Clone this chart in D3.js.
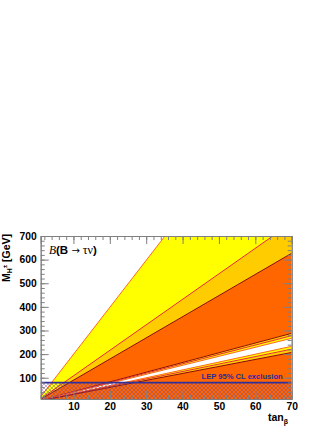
<!DOCTYPE html>
<html>
<head>
<meta charset="utf-8">
<script src="https://cdn.jsdelivr.net/npm/d3@7"></script>
<style>
  body { margin: 0; background: #fff; }
  text { font-family: "Liberation Sans", Arial, sans-serif; }
</style>
</head>
<body>
<div id="chart"></div>
<script>
// tanBeta range and contour lines (M_H+ reached at tanBeta = 70, lines start at origin)
var tanBetaEnd = 70;
var contourM70 = [1393, 756, 627, 288, 278, 267, 233, 221, 207];
var regionNames = ["yellow", "orange", "dark", "orange", "yellow", "white", "yellow", "orange", "dark"];
var lineNames = ["edge", "red", "darkred", "darkred", "red", "edge", "edge", "red", "darkred"];
var lepLimit = 79.3;
var xTicks = [10, 20, 30, 40, 50, 60, 70];
var yTicks = [100, 200, 300, 400, 500, 600, 700];

var fills = { yellow: "#ffff00", orange: "#ffcc00", dark: "#ff6600", white: "#ffffff" };
var strokes = { edge: "#ff6a1a", red: "#e8283a", darkred: "#8a0a00" };

var W = 332, H = 429;
var svg = d3.select("#chart").append("svg").attr("width", W).attr("height", H);

var x = d3.scaleLinear().domain([1, 70]).range([40.7, 291.7]);
var y = d3.scaleLinear().domain([10, 700]).range([399, 236]);

var defs = svg.append("defs");
defs.append("clipPath").attr("id", "plot")
  .append("rect")
  .attr("x", x(1)).attr("y", y(700))
  .attr("width", x(70) - x(1)).attr("height", y(10) - y(700));

var pat = defs.append("pattern").attr("id", "hatch")
  .attr("patternUnits", "userSpaceOnUse")
  .attr("width", 4).attr("height", 4);
pat.append("path").attr("d", "M0,0 L4,4 M4,0 L0,4")
  .attr("stroke", "#7a4a9a").attr("stroke-opacity", 0.45).attr("stroke-width", 1);

var g = svg.append("g").attr("clip-path", "url(#plot)");

// filled wedges between consecutive contours
var bounds = contourM70.concat([0]);
for (var i = 0; i < regionNames.length; i++) {
  var pts = [[0, 0], [tanBetaEnd, bounds[i]], [tanBetaEnd, bounds[i + 1]]];
  g.append("path")
    .attr("d", "M" + pts.map(function (p) { return x(p[0]) + "," + y(p[1]) }).join("L") + "Z")
    .attr("fill", fills[regionNames[i]]);
}
// contour lines
contourM70.forEach(function (m, i) {
  g.append("line")
    .attr("x1", x(0)).attr("y1", y(0))
    .attr("x2", x(tanBetaEnd)).attr("y2", y(m))
    .attr("stroke", strokes[lineNames[i]])
    .attr("stroke-width", 1);
});

// LEP exclusion
g.append("rect")
  .attr("x", x(1)).attr("y", y(lepLimit))
  .attr("width", x(70) - x(1)).attr("height", y(10) - y(lepLimit))
  .attr("fill", "url(#hatch)");
g.append("line")
  .attr("x1", x(1)).attr("x2", x(70))
  .attr("y1", y(lepLimit)).attr("y2", y(lepLimit))
  .attr("stroke", "#30309a").attr("stroke-width", 1.6);

svg.append("text")
  .attr("x", x(70) - 9).attr("y", y(lepLimit) - 4)
  .attr("text-anchor", "end")
  .attr("font-size", 7.6).attr("font-weight", "bold")
  .attr("fill", "#2a2a9a")
  .text("LEP 95% CL exclusion");

// axes
var axisColor = "#808080";
function styleAxis(sel) {
  sel.select(".domain").attr("stroke", axisColor);
  sel.selectAll(".tick line").attr("stroke", axisColor);
  sel.selectAll(".tick text")
    .attr("font-family", "Liberation Sans, Arial, sans-serif")
    .attr("font-size", 10.3).attr("font-weight", "bold").attr("fill", "#000");
}
var xMinor = d3.range(2, 71, 2);
var yMinor = d3.range(20, 701, 20);

svg.append("g").attr("transform", "translate(0," + y(10) + ")")
  .call(d3.axisBottom(x).tickValues(xMinor).tickSize(-4).tickFormat(""))
  .call(styleAxis);
svg.append("g").attr("transform", "translate(0," + y(10) + ")")
  .call(d3.axisBottom(x).tickValues(xTicks).tickSizeInner(-8).tickSizeOuter(0).tickPadding(4).tickFormat(d3.format("d")))
  .call(styleAxis);
svg.append("g").attr("transform", "translate(0," + y(700) + ")")
  .call(d3.axisTop(x).tickValues(xMinor).tickSize(-4).tickFormat(""))
  .call(styleAxis);
svg.append("g").attr("transform", "translate(0," + y(700) + ")")
  .call(d3.axisTop(x).tickValues(xTicks).tickSize(-8).tickFormat(""))
  .call(styleAxis);

svg.append("g").attr("transform", "translate(" + x(1) + ",0)")
  .call(d3.axisLeft(y).tickValues(yMinor).tickSize(-4).tickFormat(""))
  .call(styleAxis);
svg.append("g").attr("transform", "translate(" + x(1) + ",0)")
  .call(d3.axisLeft(y).tickValues(yTicks).tickSizeInner(-8).tickSizeOuter(0).tickPadding(4).tickFormat(d3.format("d")))
  .call(styleAxis);
svg.append("g").attr("transform", "translate(" + x(70) + ",0)")
  .call(d3.axisRight(y).tickValues(yMinor).tickSize(-4).tickFormat(""))
  .call(styleAxis);
svg.append("g").attr("transform", "translate(" + x(70) + ",0)")
  .call(d3.axisRight(y).tickValues(yTicks).tickSize(-8).tickFormat(""))
  .call(styleAxis);

// plot label
var lab = svg.append("text").attr("x", 49).attr("y", 253.5).attr("font-size", 11.5);
lab.append("tspan").attr("font-family", "Liberation Serif, serif").attr("font-style", "italic").text("B");
lab.append("tspan").attr("font-weight", "bold").text("(B ");
lab.append("tspan").attr("font-family", "DejaVu Sans, sans-serif").attr("font-size", 10).text("\u2192");
lab.append("tspan").attr("font-family", "Liberation Serif, serif").attr("font-size", 12).text(" \u03c4\u03bd");
lab.append("tspan").attr("font-weight", "bold").text(")");

// axis titles
var yt = svg.append("text")
  .attr("transform", "translate(9.5,234) rotate(-90)")
  .attr("text-anchor", "end")
  .attr("font-size", 10.5).attr("font-weight", "bold");
yt.append("tspan").text("M");
yt.append("tspan").attr("font-size", 7).attr("dy", 2.5).text("H");
yt.append("tspan").attr("font-size", 6).attr("dy", -5).text("\u00b1");
yt.append("tspan").attr("dy", 2.5).text(" [GeV]");

var xt = svg.append("text")
  .attr("x", 288).attr("y", 421)
  .attr("text-anchor", "end")
  .attr("font-size", 10.5).attr("font-weight", "bold");
xt.append("tspan").text("tan");
xt.append("tspan").attr("font-size", 7).attr("dy", 3).text("\u03b2");
</script>
</body>
</html>
